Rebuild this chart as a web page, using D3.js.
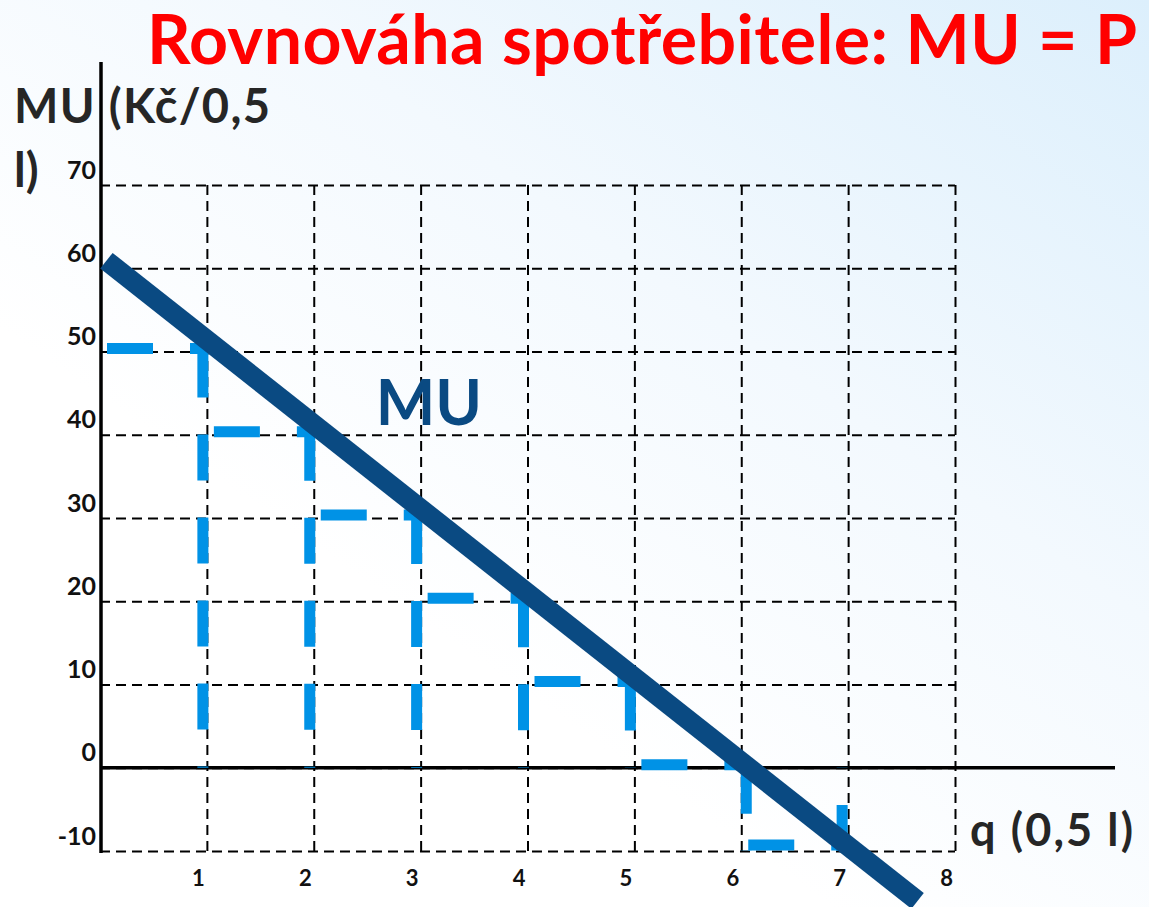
<!DOCTYPE html>
<html>
<head>
<meta charset="utf-8">
<script src="https://cdn.jsdelivr.net/npm/d3@7"></script>
<style>
  body { margin: 0; background: #fff; }
  svg { display: block; }
</style>
</head>
<body>
<script>
// chart values
var qTicks = [1, 2, 3, 4, 5, 6, 7, 8];
var muTicks = [-10, 0, 10, 20, 30, 40, 50, 60, 70];
var quantity = [1, 2, 3, 4, 5, 6, 7];
var marginalUtility = [50, 40, 30, 20, 10, 0, -10];
var muLineQ = [0.06, 7.65];
var muLineMU = [60.9, -16];
var titleText = "Rovnováha spotřebitele: MU = P";
var yLabelLines = ["MU (Kč/0,5", "l)"];
var xLabelText = "q (0,5 l)";

var W = 1149, H = 907;
var font = "Lato, 'Open Sans', sans-serif";

var svg = d3.select("body").append("svg")
	.attr("width", W)
	.attr("height", H);

// background: white fading to light blue at top right
var defs = svg.append("defs");
var grad = defs.append("linearGradient")
	.attr("id", "bg")
	.attr("gradientUnits", "userSpaceOnUse")
	.attr("x1", 1149).attr("y1", 0)
	.attr("x2", 620).attr("y2", 760);
grad.append("stop").attr("offset", 0).attr("stop-color", "#dceffc");
grad.append("stop").attr("offset", 0.55).attr("stop-color", "#f3f9fe");
grad.append("stop").attr("offset", 1).attr("stop-color", "#ffffff");

svg.append("rect")
	.attr("width", W).attr("height", H)
	.attr("fill", "url(#bg)");

var x = d3.scaleLinear().domain([0, 8]).range([100, 955]);
var y = d3.scaleLinear().domain([-10, 70]).range([851, 185]);

// horizontal grid + y tick labels
var yAxis = svg.append("g")
	.attr("transform", "translate(" + x(0) + ",0)")
	.call(d3.axisLeft(y).tickValues(muTicks).tickFormat(String)
		.tickSize(-(x(8) - x(0))).tickPadding(4));
yAxis.select(".domain").remove();
yAxis.selectAll(".tick line")
	.attr("stroke", "#000")
	.attr("stroke-width", 2)
	.attr("stroke-dasharray", "10,6");
yAxis.selectAll(".tick text")
	.attr("x", -4)
	.attr("y", -7)
	.attr("dy", null)
	.attr("fill", "#111")
	.style("font-family", font)
	.style("font-weight", "bold")
	.style("font-size", "25px");

// vertical grid + x tick labels
var xAxis = svg.append("g")
	.attr("transform", "translate(0," + y(-10) + ")")
	.call(d3.axisBottom(x).tickValues(qTicks).tickFormat(String)
		.tickSize(-(y(-10) - y(70))).tickPadding(4));
xAxis.select(".domain").remove();
xAxis.selectAll(".tick line")
	.attr("stroke", "#000")
	.attr("stroke-width", 2)
	.attr("stroke-dasharray", "10,6");
xAxis.selectAll(".tick text")
	.attr("x", -9)
	.attr("y", 35)
	.attr("dy", null)
	.attr("fill", "#111")
	.style("font-family", font)
	.style("font-weight", "bold")
	.style("font-size", "22px");

// solid axes
svg.append("line")
	.attr("x1", x(0) + 1).attr("x2", x(0) + 1)
	.attr("y1", 62).attr("y2", y(-10) + 2)
	.attr("stroke", "#000").attr("stroke-width", 3.5);
svg.append("line")
	.attr("x1", x(0)).attr("x2", 1115)
	.attr("y1", y(0)).attr("y2", y(0))
	.attr("stroke", "#000").attr("stroke-width", 3.5);

// stepped MU per unit, dashed outline of each unit
var steps = quantity.map(function (q, i) {
	return { q0: q - 1, q1: q, mu: marginalUtility[i] };
});
var stepG = svg.append("g")
	.attr("fill", "none")
	.attr("stroke", "#0092e6")
	.attr("stroke-width", 11)
	.attr("stroke-dasharray", "46,37");

steps.forEach(function (d) {
	var hy = d.mu < 0 ? y(d.mu) - 6 : y(d.mu) - 3;
	// top edge
	stepG.append("path")
		.attr("d", "M" + (x(d.q0) + 7) + "," + hy + "H" + x(d.q1));
	if (d.mu > 0) {
		// right edge down to zero
		stepG.append("path")
			.attr("d", "M" + (x(d.q1) - 4) + "," + y(d.mu) + "V" + y(0));
	} else if (d.mu < 0) {
		// left edge from zero down, right edge back up to zero
		stepG.append("path")
			.attr("d", "M" + (x(d.q0) + 5) + "," + y(0) + "V" + y(d.mu));
		stepG.append("path")
			.attr("d", "M" + (x(d.q1) - 6) + "," + y(d.mu) + "V" + y(0));
	}
});

// MU line
var line = d3.line()
	.x(function (d) { return x(d[0]); })
	.y(function (d) { return y(d[1]); });
svg.append("path")
	.datum(d3.zip(muLineQ, muLineMU))
	.attr("d", line)
	.attr("fill", "none")
	.attr("stroke", "#0a4a82")
	.attr("stroke-width", 20)
	.attr("stroke-linecap", "butt");

svg.append("text")
	.attr("x", x(2.58))
	.attr("y", y(41.2))
	.attr("fill", "#0a4a82")
	.style("font-family", font)
	.style("font-weight", "bold")
	.style("font-size", "63px")
	.text("MU");

// title
svg.append("text")
	.attr("x", 147)
	.attr("y", 64)
	.attr("fill", "#ff0000")
	.style("font-family", font)
	.style("font-weight", "bold")
	.style("font-size", "68px")
	.attr("textLength", 990)
	.text(titleText);

// axis titles
svg.selectAll(".ylab")
	.data(yLabelLines)
	.enter().append("text")
	.attr("class", "ylab")
	.attr("x", 14)
	.attr("y", function (d, i) { return 123 + i * 64; })
	.attr("fill", "#262626")
	.style("font-family", font)
	.style("font-weight", "bold")
	.style("font-size", "47px")
	.attr("textLength", function (d, i) { return i === 0 ? 256 : null; })
	.text(function (d) { return d; });

svg.append("text")
	.attr("x", 970)
	.attr("y", 846)
	.attr("fill", "#262626")
	.style("font-family", font)
	.style("font-weight", "bold")
	.style("font-size", "45px")
	.attr("textLength", 163)
	.text(xLabelText);
</script>
</body>
</html>
